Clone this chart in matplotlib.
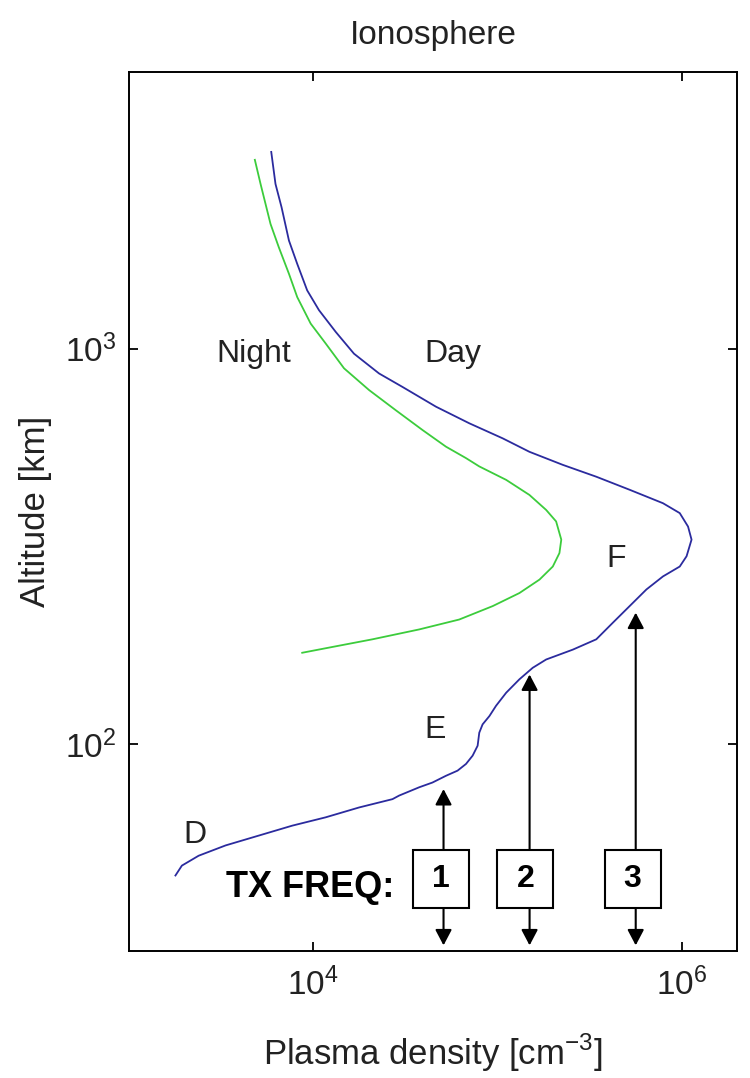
import numpy as np
import matplotlib
matplotlib.use('Agg')
import matplotlib.pyplot as plt
from matplotlib.patches import Rectangle

plt.rcParams['font.family'] = ['Liberation Sans', 'DejaVu Sans']
plt.rcParams['mathtext.fontset'] = 'custom'
plt.rcParams['mathtext.rm'] = 'Liberation Sans'

# day profile, log10 of density [cm^-3] and log10 of altitude [km], top -> bottom
day_logn = [3.772, 3.795, 3.828, 3.868, 3.913, 3.967, 4.031, 4.122, 4.221, 4.357,
            4.484, 4.666, 4.847, 5.028, 5.173, 5.354, 5.536, 5.717, 5.898,
            5.989, 6.034, 6.053, 6.026, 5.989, 5.898, 5.808, 5.717, 5.626, 5.536,
            5.409, 5.264, 5.191, 5.119, 5.047, 4.992, 4.956, 4.919, 4.901, 4.892,
            4.865, 4.829, 4.783, 4.720, 4.647, 4.575, 4.466, 4.430, 4.249, 4.067,
            3.886, 3.705, 3.524, 3.378, 3.287, 3.252]
day_logz = [3.497, 3.416, 3.357, 3.273, 3.214, 3.147, 3.097, 3.042, 2.987, 2.937,
            2.903, 2.853, 2.811, 2.773, 2.739, 2.706, 2.676, 2.643, 2.609,
            2.584, 2.550, 2.517, 2.475, 2.449, 2.424, 2.391, 2.349, 2.307, 2.265,
            2.239, 2.214, 2.193, 2.164, 2.130, 2.097, 2.071, 2.050, 2.029, 1.996,
            1.971, 1.950, 1.933, 1.920, 1.903, 1.891, 1.870, 1.861, 1.840, 1.815,
            1.794, 1.769, 1.744, 1.718, 1.693, 1.668]

# night profile
night_logn = [3.683, 3.714, 3.768, 3.813, 3.868, 3.913, 3.986, 4.067, 4.167, 4.303,
              4.448, 4.593, 4.720, 4.829, 4.901, 5.047, 5.173, 5.264, 5.318, 5.346,
              5.336, 5.300, 5.228, 5.119, 4.974, 4.792, 4.575, 4.321, 4.085, 3.940]
night_logz = [3.477, 3.416, 3.315, 3.256, 3.189, 3.130, 3.063, 3.013, 2.950, 2.895,
              2.844, 2.794, 2.752, 2.723, 2.702, 2.668, 2.630, 2.592, 2.563, 2.517,
              2.483, 2.449, 2.416, 2.382, 2.349, 2.315, 2.290, 2.265, 2.244, 2.231]

# TX frequency markers: arrow log-density, arrow tip altitude [km], box centre log-density
tx_names = ['1', '2', '3']
tx_arrow_logn = [4.707, 5.174, 5.750]
tx_tip_alt = [77, 150, 215]
tx_box_logn = [4.691, 5.151, 5.733]
box_alt = (38.6, 54.0)
down_alt = 31.0

# text labels: (text, log10 density, log10 altitude)
labels = [('Night', 3.677, 2.9655), ('Day', 4.760, 2.9655), ('F', 5.641, 2.449),
          ('E', 4.659, 2.015), ('D', 3.357, 1.750)]

fig = plt.figure(figsize=(7.5, 10.78), dpi=100)
ax = fig.add_axes([0.172, 0.1178, 0.811, 0.8154])
ax.set_xscale('log'); ax.set_yscale('log')
ax.set_xlim(1e3, 2e6); ax.set_ylim(30, 5000)

ax.plot(10 ** np.array(day_logn), 10 ** np.array(day_logz), color='#2b2b9e', lw=1.3)
ax.plot(10 ** np.array(night_logn), 10 ** np.array(night_logz), color='#3ccc3c', lw=1.3)

for txt, lx, lz in labels:
    ax.text(10 ** lx, 10 ** lz, txt, fontsize=23, ha='center', va='baseline', color='#222')

ax.text(10 ** 4.439, 10 ** 1.614, 'TX FREQ:', fontsize=26, fontweight='bold',
        ha='right', va='baseline')

hw = 0.152  # box half width in decades
for name, ax_n, tip, bx in zip(tx_names, tx_arrow_logn, tx_tip_alt, tx_box_logn):
    x = 10 ** ax_n
    ap = dict(arrowstyle='-|>,head_length=0.95,head_width=0.5', color='k', lw=1.5,
              shrinkA=0, shrinkB=0, mutation_scale=10)
    ax.annotate('', xy=(x, tip), xytext=(x, box_alt[1]), arrowprops=ap)
    ax.annotate('', xy=(x, down_alt), xytext=(x, box_alt[0]), arrowprops=ap)
    x0, x1 = 10 ** (bx - hw), 10 ** (bx + hw)
    ax.add_patch(Rectangle((x0, box_alt[0]), x1 - x0, box_alt[1] - box_alt[0],
                           fc='white', ec='k', lw=1.5, zorder=3))
    ax.text(10 ** bx, np.sqrt(box_alt[0] * box_alt[1]), name, fontsize=23,
            fontweight='bold', ha='center', va='center', zorder=4)

ax.set_xticks([1e4, 1e6])
ax.set_xticklabels([r'$\mathregular{10^{4}}$', r'$\mathregular{10^{6}}$'])
ax.set_yticks([1e2, 1e3])
ax.set_yticklabels([r'$\mathregular{10^{2}}$', r'$\mathregular{10^{3}}$'])
ax.minorticks_off()
ax.tick_params(direction='in', top=True, right=True, length=6.5, width=1.3,
               labelsize=24, labelcolor='#222')
ax.tick_params(axis='x', pad=12)
ax.tick_params(axis='y', pad=9)
for sp in ax.spines.values():
    sp.set_linewidth(1.4)

ax.set_xlabel(r'Plasma density [cm$^{\mathregular{-3}}$]', fontsize=25, color='#222')
ax.set_ylabel('Altitude [km]', fontsize=25, color='#222')
ax.xaxis.set_label_coords(0.5, -0.092)
ax.yaxis.set_label_coords(-0.127, 0.5)
ax.set_title('Ionosphere', fontsize=24, pad=20, color='#222')

fig.savefig('out.png', dpi=100)
